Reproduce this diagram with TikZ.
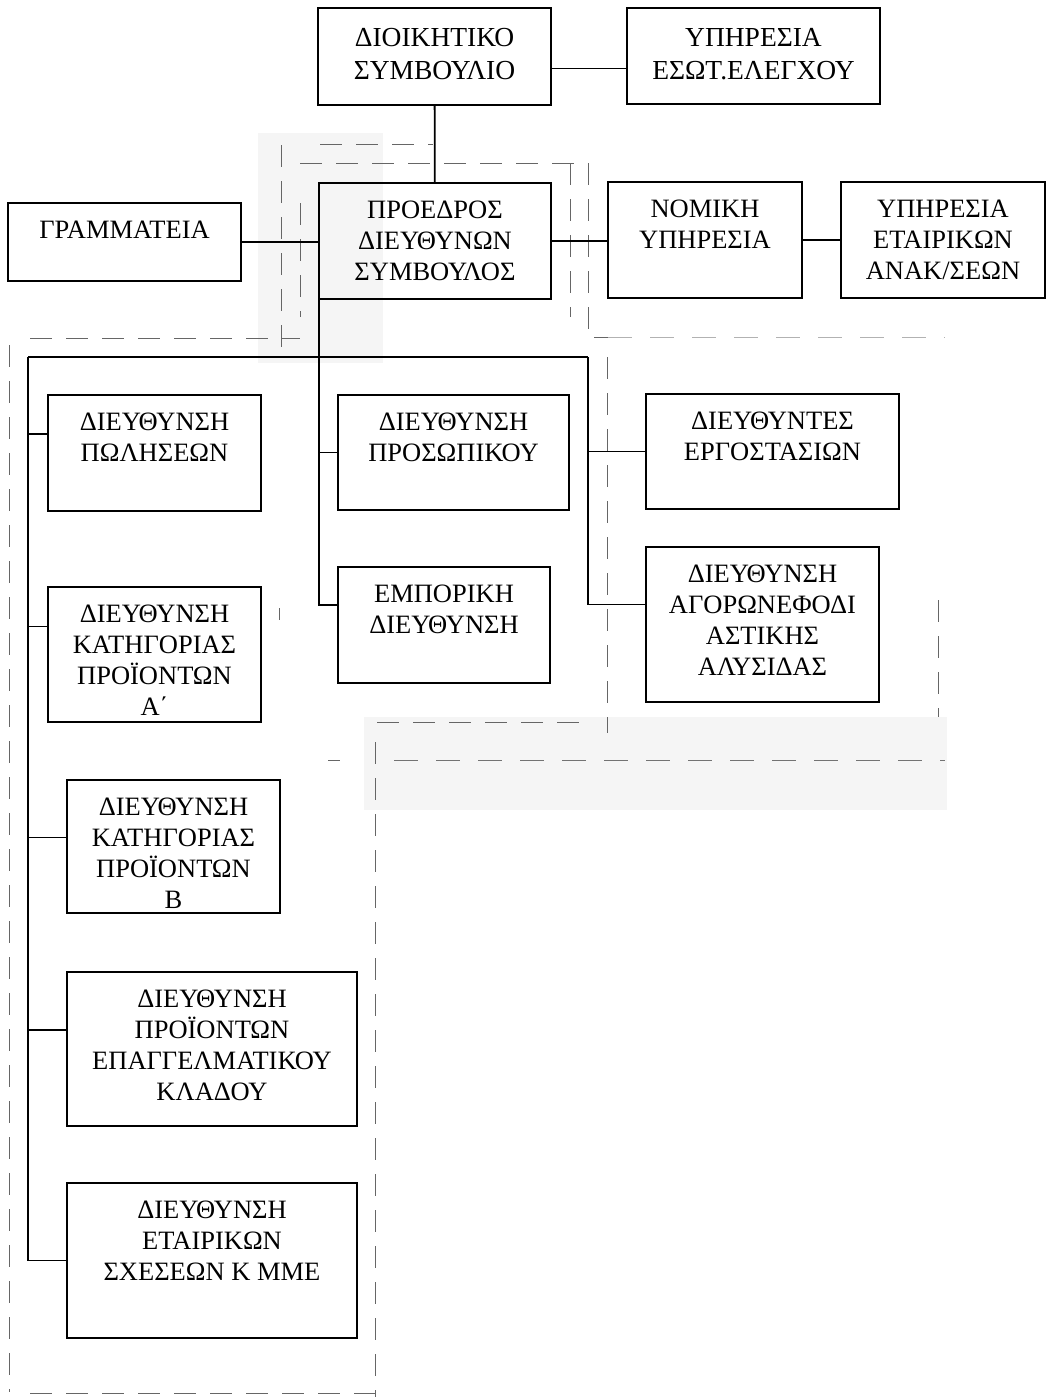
\documentclass[tikz,border=0pt]{standalone}
\usepackage{fontspec}
\setmainfont{Liberation Serif}
% text block of a unit: fixed width and height, lines hung from the top
\newcommand\orgtext[4][35pt]{\parbox[c][#3][t]{#2}{\centering\rule{0pt}{#1}#4}}
\begin{document}
\begin{tikzpicture}[x=1pt,y=-1pt,
  unit/.style={draw, line width=2.2pt, inner sep=0pt, outer sep=0pt, anchor=north west,
    font=\fontsize{26.5}{31}\selectfont},
  board/.style={unit, font=\fontsize{27.5}{33}\selectfont},
  conn/.style={line width=1.8pt},
  frame/.style={draw=black!60, line width=1pt, dash pattern=on 22pt off 14pt},
  faint/.style={draw=black!30, line width=1pt, dash pattern=on 24pt off 18pt},
  haze/.style={fill=black!4, draw=none}]

\useasboundingbox (0,0) rectangle (1049,1397);

% light shaded patches
\fill[haze] (258,133) rectangle (383,363);
\fill[haze] (364,717) rectangle (947,810);

% dashed frames around groups of units
\draw[frame] (320,144) -- (433,144);
\draw[frame] (300,163) -- (588,163);
\draw[frame] (570,163) -- (570,317);
\draw[frame] (588,163) -- (588,337) -- (608,337);
\draw[faint] (608,337) -- (945,337);
\draw[frame] (281,145) -- (281,352);
\draw[frame] (300,203) -- (300,317);
\draw[frame] (30,338) -- (300,338);
\draw[frame] (9,345) -- (9,1392);
\draw[frame] (30,1393) -- (375,1393);
\draw[frame] (375,742) -- (375,1397);
\draw[frame] (607,357) -- (607,733);
\draw[frame] (938,600) -- (938,717);
\draw[frame] (377,722) -- (588,722);
\draw[faint, draw=black!55] (394,760) -- (945,760);
\draw[frame] (328,760) -- (340,760);
\draw[frame] (279,608) -- (279,620);

% units
\node[board] (ds) at (318,8) {\orgtext[39pt]{233pt}{97pt}{ΔΙΟΙΚΗΤΙΚΟ\\ΣΥΜΒΟΥΛΙΟ}};
\node[board] (esel) at (627,8) {\orgtext[39pt]{253pt}{96pt}{ΥΠΗΡΕΣΙΑ\\ΕΣΩΤ.ΕΛΕΓΧΟΥ}};
\node[unit] (gram) at (8,203) {\orgtext{233pt}{78pt}{ΓΡΑΜΜΑΤΕΙΑ}};
\node[unit] (pds) at (319,183) {\orgtext{232pt}{116pt}{ΠΡΟΕΔΡΟΣ\\ΔΙΕΥΘΥΝΩΝ\\ΣΥΜΒΟΥΛΟΣ}};
\node[unit] (nom) at (608,182) {\orgtext{194pt}{116pt}{ΝΟΜΙΚΗ\\ΥΠΗΡΕΣΙΑ}};
\node[unit] (etair) at (841,182) {\orgtext{204pt}{116pt}{ΥΠΗΡΕΣΙΑ\\ΕΤΑΙΡΙΚΩΝ\\ΑΝΑΚ/ΣΕΩΝ}};
\node[unit] (pol) at (48,395) {\orgtext{213pt}{116pt}{ΔΙΕΥΘΥΝΣΗ\\ΠΩΛΗΣΕΩΝ}};
\node[unit] (pros) at (338,395) {\orgtext{231pt}{115pt}{ΔΙΕΥΘΥΝΣΗ\\ΠΡΟΣΩΠΙΚΟΥ}};
\node[unit] (emp) at (338,567) {\orgtext{212pt}{116pt}{ΕΜΠΟΡΙΚΗ\\ΔΙΕΥΘΥΝΣΗ}};
\node[unit] (erg) at (646,394) {\orgtext{253pt}{115pt}{ΔΙΕΥΘΥΝΤΕΣ\\ΕΡΓΟΣΤΑΣΙΩΝ}};
\node[unit] (agor) at (646,547) {\orgtext{233pt}{155pt}{ΔΙΕΥΘΥΝΣΗ\\ΑΓΟΡΩΝΕΦΟΔΙ\\ΑΣΤΙΚΗΣ\\ΑΛΥΣΙΔΑΣ}};
\node[unit] (katA) at (48,587) {\orgtext{213pt}{135pt}{ΔΙΕΥΘΥΝΣΗ\\ΚΑΤΗΓΟΡΙΑΣ\\ΠΡΟΪΟΝΤΩΝ\\Α΄}};
\node[unit] (katB) at (67,780) {\orgtext{213pt}{133pt}{ΔΙΕΥΘΥΝΣΗ\\ΚΑΤΗΓΟΡΙΑΣ\\ΠΡΟΪΟΝΤΩΝ\\Β}};
\node[unit] (epag) at (67,972) {\orgtext{290pt}{154pt}{ΔΙΕΥΘΥΝΣΗ\\ΠΡΟΪΟΝΤΩΝ\\ΕΠΑΓΓΕΛΜΑΤΙΚΟΥ\\ΚΛΑΔΟΥ}};
\node[unit] (sxes) at (67,1183) {\orgtext{290pt}{155pt}{ΔΙΕΥΘΥΝΣΗ\\ΕΤΑΙΡΙΚΩΝ\\ΣΧΕΣΕΩΝ Κ ΜΜΕ}};

% bus points of the lower tree
\coordinate (busL) at (28,357);
\coordinate (busR) at (588,357);

% connectors
\draw[conn] (ds) -- (pds);
\draw[conn] ([yshift=-12pt]ds.east) -- ([yshift=-12pt]ds.east -| esel.west);
\draw[conn] (gram.east) -- (gram.east -| pds.west);
\draw[conn] (pds.east) -- (pds.east -| nom.west);
\draw[conn] (nom.east) -- (nom.east -| etair.west);

\draw[conn] (busL) -- (busR);
\draw[conn] (pds.south west) |- ([yshift=20pt]emp.west);
\draw[conn] (pros.west -| pds.south west) -- (pros.west);

\draw[conn] (busR) |- ([yshift=20pt]agor.west);
\draw[conn] (erg.west -| busR) -- (erg.west);

\draw[conn] (busL) |- (sxes.west);
\draw[conn] ([yshift=19pt]pol.west -| busL) -- ([yshift=19pt]pol.west);
\draw[conn] ([yshift=28pt]katA.west -| busL) -- ([yshift=28pt]katA.west);
\draw[conn] ([yshift=9pt]katB.west -| busL) -- ([yshift=9pt]katB.west);
\draw[conn] ([yshift=19pt]epag.west -| busL) -- ([yshift=19pt]epag.west);
\end{tikzpicture}
\end{document}
